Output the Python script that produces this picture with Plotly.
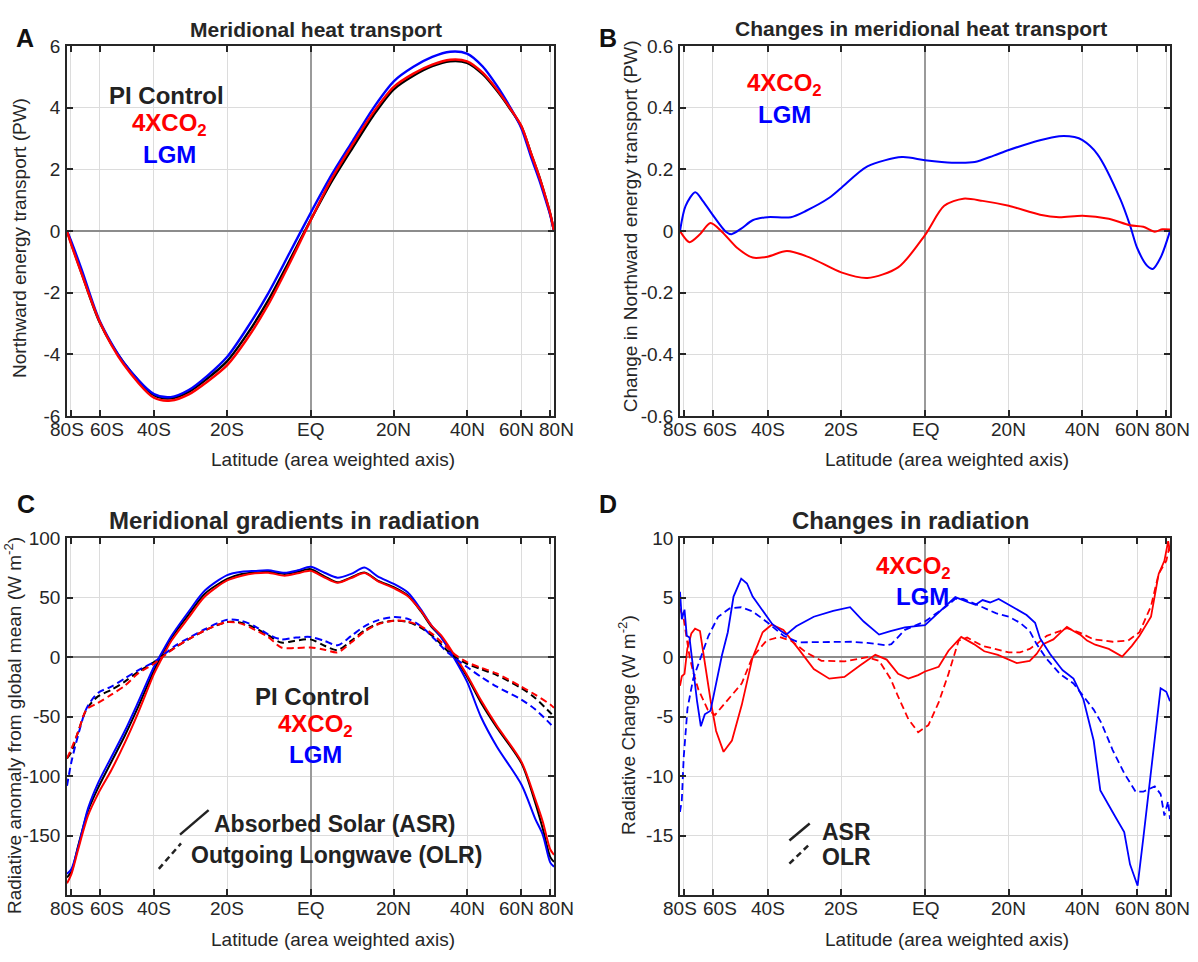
import numpy as np
import plotly.graph_objects as go

W, H = 1198, 962

# ---------------- Panel A : meridional heat transport (PW) ----------------
A_LAT = [-90, -80, -70, -60, -50, -40, -35, -30, -25, -20, -15, -10, -5, 0, 5, 10, 15, 20,
         25, 30, 35, 40, 45, 50, 55, 60, 65, 70, 75, 80, 90]
A_PI = [0, -0.35, -1.37, -2.96, -4.28, -5.33, -5.43, -5.22, -4.78, -4.22, -3.33, -2.25, -0.97,
        0.35, 1.61, 2.71, 3.76, 4.6, 5.04, 5.35, 5.51, 5.46, 5.09, 4.55, 3.97, 3.39, 2.5, 1.76,
        1.08, 0.55, 0]
A_LGM = [0, -0.29, -1.25, -2.91, -4.28, -5.29, -5.39, -5.16, -4.69, -4.08, -3.13, -2.02, -0.73,
         0.58, 1.83, 2.93, 4.0, 4.86, 5.33, 5.65, 5.82, 5.76, 5.34, 4.71, 4.03, 3.34, 2.39, 1.65,
         1.0, 0.51, 0]
A_4XCO2 = [0, -0.38, -1.39, -2.94, -4.34, -5.41, -5.5, -5.3, -4.88, -4.35, -3.48, -2.39, -1.07,
           0.34, 1.7, 2.82, 3.86, 4.68, 5.11, 5.4, 5.56, 5.51, 5.14, 4.59, 3.99, 3.41, 2.51, 1.76,
           1.09, 0.56, 0]

# ---------------- Panel B : change in heat transport (PW) ----------------
B_LAT_LGM = [-90, -77.7, -69.7, -65.1, -59.3, -54.4, -52.2, -48.6, -44.7, -40, -33.2, -29, -23,
             -20, -13.6, -5.4, 0, 6.3, 11.7, 16.3, 20, 28, 33.2, 37.6, 40, 44.7, 52.9, 56.8, 60,
             65.1, 68.4, 74.1, 90]
B_LGM = [0, 0.082, 0.126, 0.098, 0.045, -0.002, -0.01, 0.008, 0.035, 0.045, 0.045, 0.066, 0.108,
         0.14, 0.21, 0.24, 0.23, 0.222, 0.224, 0.245, 0.263, 0.295, 0.308, 0.305, 0.295, 0.25,
         0.103, 0.019, -0.055, -0.113, -0.123, -0.086, 0]
B_LAT_4XCO2 = [-90, -74, -67.2, -61.1, -56, -50, -44.7, -40, -34.3, -28, -20, -13.6, -6.3, 0,
               4.5, 9, 13.6, 20, 28, 33.2, 40, 48.6, 56.8, 63, 69.7, 75.7, 90]
B_4XCO2 = [0, -0.036, -0.013, 0.026, -0.002, -0.055, -0.086, -0.083, -0.065, -0.086, -0.134,
           -0.152, -0.118, -0.013, 0.082, 0.105, 0.098, 0.082, 0.053, 0.045, 0.05, 0.04, 0.019,
           0.014, -0.002, 0.006, 0.005]

# ---------------- Panel C : radiation anomaly from global mean (W m-2) ----------------
C_LAT_ASR = [-90, -79, -72.7, -66, -60.8, -54.9, -49.7, -45.1, -40, -38, -34.8, -30.1, -25.7,
             -20, -16.4, -13.2, -10, -6.1, -3, 0, 3.3, 6.4, 9.6, 12.8, 16, 20, 23.5, 27, 29.7,
             32.4, 36.2, 40, 44.4, 49.9, 60, 67.3, 72.5, 80, 90]
C_ASR_PI = [-185, -180, -159, -129, -110, -88, -66, -42, -11, 0, 16.4, 35.6, 53.4, 65.8, 70,
            71.2, 71.8, 70, 71.8, 74, 68, 63, 67.1, 71.2, 64.4, 58.9, 52, 38.4, 26, 17, 0, -16.4,
            -38, -59, -89, -122, -144, -168, -172]
C_ASR_LGM = [-182, -178, -160, -127, -106, -84, -62, -38, -8, 2, 18, 38, 56, 69, 71.8, 72.5, 73,
             71, 73, 76, 71, 66.8, 70, 75.3, 68, 61.6, 54.5, 40, 27, 17, -1, -20.5, -50, -75,
             -107, -135.6, -149, -172.6, -176]
C_ASR_4XCO2 = [-190, -182, -162, -133, -115, -95, -72, -47, -14, -3, 14, 33, 51, 64.5, 68.5,
               70.5, 71, 68.5, 70.5, 72.6, 67, 62.5, 66.5, 70.7, 64, 58, 51.5, 39, 27, 18.5, 2,
               -15, -36, -57.5, -87.7, -119, -138, -161.6, -166]
C_LAT_OLR = [-90, -79, -72.7, -66.9, -60.8, -54.9, -49.7, -45.1, -40, -38, -33.8, -30.1, -25.7,
             -20, -16.4, -13.2, -10, -6.9, -3.8, 0, 3.3, 6.4, 9.6, 12.8, 16, 20, 23.5, 27, 30.4,
             34.2, 36.5, 40, 44.4, 49.9, 60, 67.3, 80, 90]
C_OLR_PI = [-85, -79.5, -63, -43.8, -32.9, -27.4, -20.5, -12.3, -4.1, 0, 8.2, 15, 22.5, 29.6,
            28.8, 24.7, 18.5, 12.3, 13.7, 15, 9.6, 6, 13.7, 22.5, 28, 30.7, 29.6, 24.7, 17, 5.5,
            0, -5.5, -10, -15, -26, -34.2, -46.6, -49.3]
C_OLR_LGM = [-108, -87.7, -65.8, -43, -30, -24.7, -17.8, -11, -4.1, 0, 9.6, 16, 23.5, 31.5,
             30.5, 26, 19.2, 15, 16.4, 17, 13.7, 10, 17.8, 26, 31, 33.7, 32.3, 26, 15.9, 4.1, -1,
             -8.2, -16.4, -24.7, -35.6, -43.8, -56, -60]
C_OLR_4XCO2 = [-85, -76.7, -63, -44, -38.4, -31.5, -24, -13.7, -5.5, -1, 8, 15, 22.5, 29.6, 28,
               23, 17, 8.2, 7.7, 8.2, 6.3, 4.1, 12.3, 21.5, 27.5, 30.7, 30, 26, 18.6, 8.2, 2,
               -4.1, -8.8, -13.7, -24.7, -31.5, -39.7, -42.5]

# ---------------- Panel D : changes in radiation (W m-2) ----------------
D_LAT_ASR_4XCO2 = [-90, -83, -79, -76, -72.5, -69.8, -66.7, -64, -61, -58.5, -55.3, -52, -48.4,
                   -44.8, -41.5, -38.7, -35.3, -31.1, -27, -23, -19.2, -15.4, -11.7, -9, -6.3,
                   -3.9, -1.6, 0, 3.2, 5.5, 8.5, 11.5, 14, 17.3, 22, 25.3, 27.1, 28.8, 31.6,
                   33.5, 35.4, 37.3, 39.3, 41.4, 44, 48.6, 53.6, 57.6, 61.1, 67.3, 72.5, 77.7,
                   83, 90]
D_ASR_4XCO2 = [-2.4, -1.6, -1.4, 0.7, 2.0, 2.4, 2.2, -0.6, -3.7, -6.2, -7.95, -7.0, -4.0, -0.1,
               2.1, 2.75, 2.3, 0.7, -1.0, -1.8, -1.65, -0.7, 0.2, -0.2, -1.4, -1.8, -1.5, -1.2,
               -0.8, 0.55, 1.7, 1.1, 0.5, 0.2, -0.5, -0.3, 0.27, 1.1, 1.5, 2.05, 2.55, 2.2, 1.9,
               1.4, 1.05, 0.7, 0.05, 0.96, 1.8, 3.4, 7.0, 8.1, 9.75, 8.9]
D_LAT_OLR_4XCO2 = [-90, -80, -74, -71, -67.7, -62.5, -59, -54.4, -48.4, -44.8, -40.3, -36.5,
                   -33.2, -29, -25, -19.2, -13.6, -10.8, -8.1, -6.3, -3.9, -1.6, 0.8, 3.2, 5.5,
                   7.9, 9.9, 13.6, 16.8, 20, 22.8, 25.3, 27.1, 29.8, 33.4, 35.4, 39.3, 43.5, 50,
                   56, 61.1, 67.3, 72.5, 80, 90]
D_OLR_4XCO2 = [4.1, 3.2, 0.1, -1.3, -2.7, -4.4, -4.85, -3.8, -2.2, 0, 1.4, 1.7, 1.4, 0.4, -0.3,
               -0.35, 0, -0.3, -1.8, -3.3, -5.2, -6.3, -5.7, -3.8, -1.4, 1.4, 1.65, 0.95, 0.7,
               0.4, 0.4, 0.7, 1.1, 1.8, 2.2, 2.45, 2.05, 1.5, 1.3, 1.4, 2.1, 4.3, 7.0, 8.1, 9.5]
D_LAT_ASR_LGM = [-90, -83, -79, -76.5, -74, -71.1, -68.5, -66.2, -64, -61.1, -57.6, -56, -53.6,
                 -51.4, -48.6, -46.6, -44.7, -41.6, -38.6, -36, -34.5, -31.7, -27, -22, -17.8,
                 -14.5, -10.8, -8.1, -4.7, 0, 3.2, 7.1, 10.3, 11.9, 13.6, 15.4, 17.5, 20, 21.9,
                 24.5, 26.7, 28, 28.8, 30.7, 33.4, 34.2, 37.3, 40.3, 43.5, 45.7, 50.7, 54.4,
                 56.8, 60.2, 63, 67.3, 74.1, 80, 90]
D_ASR_LGM = [5.5, 3.2, 4.0, 1.8, 1.65, -1.0, -3.7, -5.8, -4.8, -4.5, -1.5, 0.14, 2.1, 5.1, 6.6,
             6.2, 5.1, 4.0, 2.8, 2.2, 1.9, 2.6, 3.4, 3.9, 4.2, 3.0, 1.9, 2.2, 2.5, 2.7, 3.8,
             5.05, 4.6, 4.4, 4.8, 4.6, 4.9, 4.4, 4.0, 3.55, 2.9, 1.6, 1.2, 0.27, -0.8, -1.1,
             -1.8, -3.55, -7.0, -11.2, -13.3, -14.7, -17.4, -19.2, -15.2, -9.75, -2.6, -2.9,
             -3.7]
D_LAT_OLR_LGM = [-90, -83, -80, -75.8, -71.1, -66.2, -62.1, -57.6, -52.9, -48.6, -44.7, -39.9,
                 -35.3, -31.1, -23, -17.3, -13.6, -9, -7.9, -4.7, 0, 4.7, 7.1, 9, 13.6, 16.8,
                 20, 22.8, 25.3, 27.1, 29.8, 33.4, 37.3, 40.3, 43.5, 46, 50, 54.4, 59.3, 63,
                 69.7, 74.1, 77.7, 83, 90]
D_OLR_LGM = [-13, -12, -8.4, -4.3, -1.8, 0, 1.8, 3.4, 4.1, 4.2, 3.85, 2.9, 1.8, 1.25, 1.3, 1.3,
             1.2, 1.0, 1.1, 2.3, 3.0, 4.2, 4.9, 4.9, 4.2, 3.7, 3.4, 2.9, 2.2, 1.1, -0.15, -1.4,
             -2.2, -3.3, -4.4, -5.5, -7.8, -9.75, -11.3, -11.3, -10.85, -11.5, -13.3, -12.1,
             -13.6]

# ---------------- axes ticks ----------------
TICK_LATS = [-80, -60, -40, -20, 0, 20, 40, 60, 80]
TICK_TEXT = ['80S', '60S', '40S', '20S', 'EQ', '20N', '40N', '60N', '80N']
A_YTICKS = [-6, -4, -2, 0, 2, 4, 6]
B_YTICKS = [-0.6, -0.4, -0.2, 0, 0.2, 0.4, 0.6]
B_YTEXT = ['-0.6', '-0.4', '-0.2', '0', '0.2', '0.4', '0.6']
C_YTICKS = [-150, -100, -50, 0, 50, 100]
C_YTEXT = ['-150', '-100', '-50', '0', '50', '100']
D_YTICKS = [-15, -10, -5, 0, 5, 10]
D_YTEXT = ['-15', '-10', '-5', '0', '5', '10']
A_YTEXT = ['-6', '-4', '-2', '0', '2', '4', '6']

BLACK, RED, BLUE = '#000000', '#ff0000', '#0000ff'
FONT = 'Liberation Sans, Arial, Helvetica, sans-serif'
TXT = '#262626'
FS = 19

# label nudges (px) used in the original so that crowded polar labels don't collide
TICK_NUDGE = [-3.5, 7, 0, 0, 0, 0, 0, -4.5, 6]


def sx(lat):
    return np.sin(np.radians(np.asarray(lat, dtype=float)))


def px(x):
    return x / W


def py(y):
    return 1 - y / H


# panel pixel boxes (left, right, top, bottom)
BOX = {
    1: (67, 554, 37, 415),
    2: (680, 1170, 37, 415),
    3: (67, 554, 540, 905),
    4: (680, 1170, 540, 905),
}

fig = go.Figure()


def add(i, lat, vals, color, dash='solid', shape='spline', width=2.0):
    suf = '' if i == 1 else str(i)
    fig.add_trace(go.Scatter(
        x=sx(lat), y=vals, mode='lines', xaxis='x' + suf, yaxis='y' + suf,
        line=dict(color=color, width=width, dash=dash, shape=shape,
                  smoothing=0.8 if shape == 'spline' else None),
        showlegend=False, hoverinfo='skip'))


DASH = '7px,4px'
# A
add(1, A_LAT, A_PI, BLACK, width=2.4)
add(1, A_LAT, A_LGM, BLUE, width=2.4)
add(1, A_LAT, A_4XCO2, RED, width=2.4)
# B
add(2, B_LAT_LGM, B_LGM, BLUE)
add(2, B_LAT_4XCO2, B_4XCO2, RED)
# C
add(3, C_LAT_ASR, C_ASR_PI, BLACK)
add(3, C_LAT_ASR, C_ASR_LGM, BLUE)
add(3, C_LAT_ASR, C_ASR_4XCO2, RED)
add(3, C_LAT_OLR, C_OLR_PI, BLACK, dash=DASH)
add(3, C_LAT_OLR, C_OLR_LGM, BLUE, dash=DASH)
add(3, C_LAT_OLR, C_OLR_4XCO2, RED, dash=DASH)
# D
add(4, D_LAT_ASR_4XCO2, D_ASR_4XCO2, RED, shape='linear', width=1.8)
add(4, D_LAT_OLR_4XCO2, D_OLR_4XCO2, RED, dash=DASH, shape='linear', width=1.8)
add(4, D_LAT_ASR_LGM, D_ASR_LGM, BLUE, shape='linear', width=1.8)
add(4, D_LAT_OLR_LGM, D_OLR_LGM, BLUE, dash=DASH, shape='linear', width=1.8)

common_x = dict(range=[-1, 1], tickvals=list(sx(TICK_LATS)), showticklabels=False,
                showgrid=True, gridcolor='#dcdcdc', gridwidth=1,
                zeroline=True, zerolinecolor='#9a9a9a', zerolinewidth=1.5,
                showline=True, linecolor='#262626', linewidth=1.5, mirror='allticks',
                ticks='inside', ticklen=6, tickcolor='#262626', tickwidth=1.5)
common_y = dict(showgrid=True, gridcolor='#dcdcdc', gridwidth=1,
                zeroline=True, zerolinecolor='#8c8c8c', zerolinewidth=2,
                showline=True, linecolor='#262626', linewidth=1.5, mirror='allticks',
                ticks='inside', ticklen=6, tickcolor='#262626', tickwidth=1.5,
                ticklabelstandoff=1,
                tickfont=dict(family=FONT, size=FS, color=TXT))

layout = dict(width=W, height=H, margin=dict(l=0, r=0, t=0, b=0),
              paper_bgcolor='white', plot_bgcolor='white', showlegend=False)

yspec = {
    1: dict(range=[-6, 6], tickvals=A_YTICKS, ticktext=A_YTEXT),
    2: dict(range=[-0.6, 0.6], tickvals=B_YTICKS, ticktext=B_YTEXT),
    3: dict(range=[-200, 100], tickvals=C_YTICKS, ticktext=C_YTEXT),
    4: dict(range=[-20, 10], tickvals=D_YTICKS, ticktext=D_YTEXT),
}
for i, (l, r, t, b) in BOX.items():
    suf = '' if i == 1 else str(i)
    xa = dict(common_x, domain=[px(l), px(r)], anchor='y' + suf)
    ya = dict(common_y, domain=[py(b), py(t)], anchor='x' + suf, **yspec[i])
    layout['xaxis' + suf] = xa
    layout['yaxis' + suf] = ya

fig.update_layout(**layout)

ann = []


def text(x, y, s, size, color=TXT, bold=False, angle=0, xanchor='center'):
    ann.append(dict(x=px(x), y=py(y), xref='paper', yref='paper', text=('<b>%s</b>' % s) if bold else s,
                    showarrow=False, xanchor=xanchor, yanchor='middle', textangle=angle,
                    font=dict(family=FONT, size=size, color=color)))


# x tick labels (positioned from the axis ticks, with the original's small nudges)
for i, (l, r, t, b) in BOX.items():
    cx, hw = (l + r) / 2, (r - l) / 2
    for lat, lab, nudge in zip(TICK_LATS, TICK_TEXT, TICK_NUDGE):
        xpix = cx + float(sx(lat)) * hw + nudge
        text(xpix, b + 14, lab, FS)

# panel letters
text(25, 29, 'A', 25, '#111111', True)
text(608, 29, 'B', 25, '#111111', True)
text(26, 505, 'C', 25, '#111111', True)
text(608, 505, 'D', 25, '#111111', True)
# titles
text(316, 20, 'Meridional heat transport', 21, TXT, True)
text(921, 19, 'Changes in meridional heat transport', 21, TXT, True)
text(294, 522, 'Meridional gradients in radiation', 24, TXT, True)
text(910, 522, 'Changes in radiation', 24, TXT, True)
# x titles
text(333, 460, 'Latitude (area weighted axis)', FS)
text(947, 460, 'Latitude (area weighted axis)', FS)
text(333, 950, 'Latitude (area weighted axis)', FS)
text(947, 950, 'Latitude (area weighted axis)', FS)
# y titles
text(20, 233, 'Northward energy transport (PW)', FS, angle=-90)
text(630, 221, 'Change in Northward energy transport (PW)', FS, angle=-90)
text(13, 732, 'Radiative anomaly from global mean (W m<sup>-2</sup>)', FS, angle=-90)
text(627, 731, 'Radiative Change (W m<sup>-2</sup>)', FS, angle=-90)
# in-panel labels
text(166, 87, 'PI Control', 24, '#222222', True)
text(170, 117, '4XCO<sub>2</sub>', 24, RED, True)
text(170, 148, 'LGM', 24, BLUE, True)
text(784, 76, '4XCO<sub>2</sub>', 24, RED, True)
text(784, 107, 'LGM', 24, BLUE, True)
text(312, 702, 'PI Control', 24, '#222222', True)
text(315, 731, '4XCO<sub>2</sub>', 24, RED, True)
text(315, 761, 'LGM', 24, BLUE, True)
text(914, 570, '4XCO<sub>2</sub>', 24, RED, True)
text(922, 600, 'LGM', 24, BLUE, True)
text(212, 832, 'Absorbed Solar (ASR)', 23, '#222222', True, xanchor='left')
text(189, 864, 'Outgoing Longwave (OLR)', 23, '#222222', True, xanchor='left')
text(820, 840, 'ASR', 23, '#222222', True, xanchor='left')
text(820, 866, 'OLR', 23, '#222222', True, xanchor='left')

shapes = []


def seg(x0, y0, x1, y1, dash='solid'):
    shapes.append(dict(type='line', xref='paper', yref='paper', x0=px(x0), y0=py(y0),
                       x1=px(x1), y1=py(y1), line=dict(color='#222222', width=2.5, dash=dash)))


seg(180, 843, 208.6, 818)
seg(158.8, 878, 181, 852, dash='6px,4px')
seg(789.4, 849, 809.7, 831.7)
seg(789.4, 872.7, 809.7, 852.7, dash='6px,4px')

fig.update_layout(annotations=ann, shapes=shapes)
fig.write_html('out.html')
